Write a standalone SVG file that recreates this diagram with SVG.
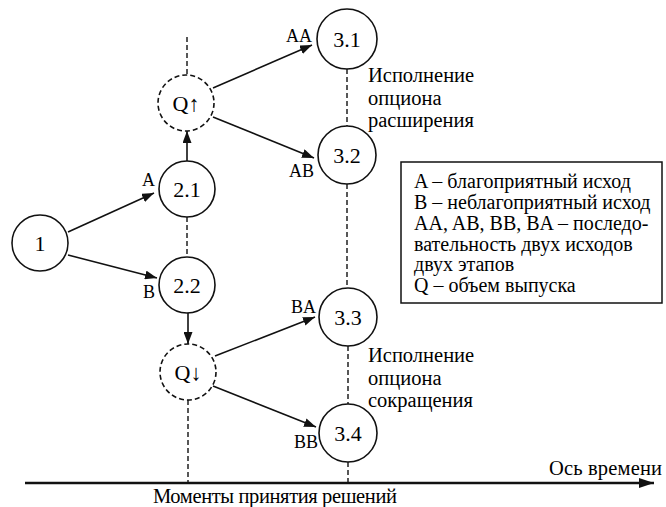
<svg xmlns="http://www.w3.org/2000/svg" width="666" height="507" viewBox="0 0 666 507">
<defs>
<style>
text{font-family:"Liberation Serif","Times New Roman",serif;fill:#000}
.node{fill:#fff;stroke:#111;stroke-width:1.6}
.q{fill:#fff;stroke:#111;stroke-width:1.6;stroke-dasharray:5,3}
.nl{font-size:22px;text-anchor:middle}
.lab{font-size:18px}
.arr{stroke:#111;stroke-width:1.6;fill:none;marker-end:url(#ah)}
.dash{stroke:#111;stroke-width:1.4;stroke-dasharray:5,3;fill:none}
.leg{font-size:20px}
.side{font-size:20.5px}
</style>
<marker id="ah" markerUnits="userSpaceOnUse" markerWidth="12" markerHeight="9" refX="12" refY="4.5" orient="auto">
<path d="M0,0 L12,4.5 L0,9 z" fill="#111"/>
</marker>
<marker id="ah2" markerUnits="userSpaceOnUse" markerWidth="15" markerHeight="10" refX="15" refY="5" orient="auto">
<path d="M0,0 L15,5 L0,10 z" fill="#111"/>
</marker>
</defs>
<rect width="666" height="507" fill="#fff"/>
<g id="connectors">
<line class="dash" x1="187" y1="37" x2="187" y2="75"/>
<line class="dash" x1="187" y1="217" x2="187" y2="257"/>
<line class="dash" x1="188" y1="400" x2="188" y2="483"/>
<line class="dash" x1="347" y1="69" x2="347" y2="126"/>
<line class="dash" x1="347" y1="184" x2="347" y2="288"/>
<line class="dash" x1="348" y1="346" x2="348" y2="404"/>
<line class="dash" x1="348" y1="462" x2="348" y2="483"/>
<line class="arr" x1="68" y1="232" x2="154" y2="193"/>
<line class="arr" x1="68" y1="255" x2="157" y2="278"/>
<line class="arr" x1="187" y1="161" x2="187" y2="131"/>
<line class="arr" x1="213" y1="88" x2="312" y2="45"/>
<line class="arr" x1="213" y1="117" x2="314" y2="158"/>
<line class="arr" x1="188" y1="313" x2="188" y2="344"/>
<line class="arr" x1="215" y1="356" x2="315" y2="317"/>
<line class="arr" x1="213" y1="386" x2="316" y2="427"/>
<line x1="25" y1="483" x2="654" y2="483" stroke="#111" stroke-width="2.5" marker-end="url(#ah2)"/>
</g>
<g id="n1"><circle class="node" cx="40" cy="243" r="28"/><text class="nl" x="40" y="251">1</text></g>
<g id="n21"><circle class="node" cx="187" cy="189" r="28"/><text class="nl" x="187" y="197">2.1</text></g>
<g id="n22"><circle class="node" cx="187" cy="285" r="28"/><text class="nl" x="187" y="293">2.2</text></g>
<g id="qup"><circle class="q" cx="186" cy="103" r="28"/><text class="nl" x="186" y="111">Q↑</text></g>
<g id="qdown"><circle class="q" cx="188" cy="372" r="28"/><text class="nl" x="188" y="380">Q↓</text></g>
<g id="n31"><circle class="node" cx="347" cy="39" r="30"/><text class="nl" x="347" y="47">3.1</text></g>
<g id="n32"><circle class="node" cx="347" cy="155" r="29"/><text class="nl" x="347" y="163">3.2</text></g>
<g id="n33"><circle class="node" cx="348" cy="317" r="29"/><text class="nl" x="348" y="325">3.3</text></g>
<g id="n34"><circle class="node" cx="348" cy="433" r="29"/><text class="nl" x="348" y="441">3.4</text></g>
<g id="labels">
<text class="lab" x="142" y="186">A</text>
<text class="lab" x="143" y="298">B</text>
<text class="lab" x="286" y="42">AA</text>
<text class="lab" x="289" y="177">AB</text>
<text class="lab" x="291" y="313">BA</text>
<text class="lab" x="294" y="448">BB</text>
<text class="side" x="368" y="82">Исполнение</text>
<text class="side" x="368" y="105">опциона</text>
<text class="side" x="368" y="127">расширения</text>
<text class="side" x="368" y="362">Исполнение</text>
<text class="side" x="368" y="385">опциона</text>
<text class="side" x="368" y="407">сокращения</text>
<text class="side" x="549" y="475" textLength="113">Ось времени</text>
<text class="side" x="153" y="503" textLength="244">Моменты принятия решений</text>
</g>
<g id="legend">
<rect x="401" y="162" width="261" height="141" fill="#fff" stroke="#111" stroke-width="1.5"/>
<text class="leg" x="414" y="188">A – благоприятный исход</text>
<text class="leg" x="414" y="209">B – неблагоприятный исход</text>
<text class="leg" x="414" y="230">AA, AB, BB, BA – последо-</text>
<text class="leg" x="414" y="251">вательность двух исходов</text>
<text class="leg" x="414" y="271">двух этапов</text>
<text class="leg" x="414" y="292">Q – объем выпуска</text>
</g>
</svg>
